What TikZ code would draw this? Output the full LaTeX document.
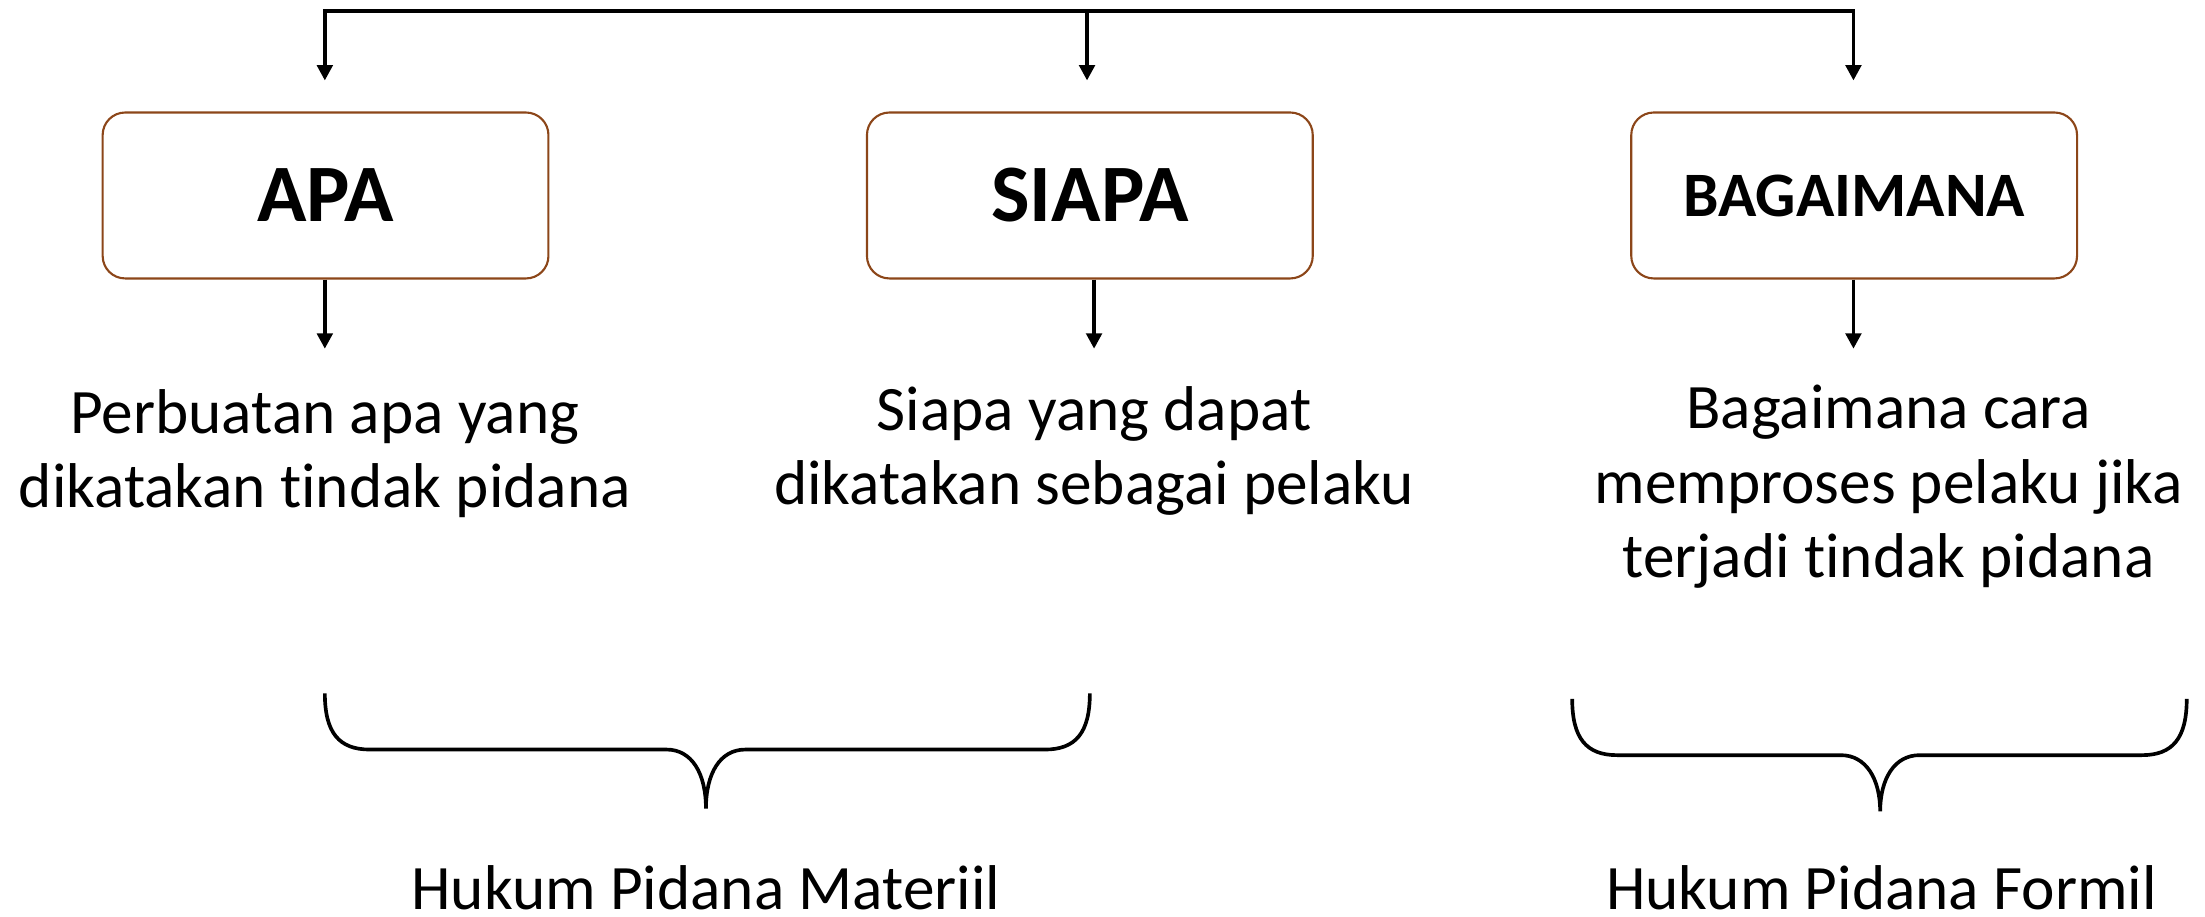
\documentclass[tikz,border=0pt]{standalone}
\usepackage{fontspec}
\setmainfont[Ligatures=NoCommon]{Carlito}
\usetikzlibrary{arrows.meta}
\definecolor{boxbrown}{RGB}{140,70,25}
\begin{document}
\begin{tikzpicture}[x=1pt,y=-1pt,
  conn/.style={line width=2.7pt,black},
  arr/.style={conn,-{Triangle[length=11pt,width=11pt]}},
  qbox/.style={draw=boxbrown,line width=1.5pt,rounded corners=16pt,minimum width=317pt,minimum height=118pt,inner sep=0pt,font=\fontsize{58}{60}\selectfont\bfseries},
  desc/.style={align=center,inner sep=0pt,font=\fontsize{45}{53}\selectfont},
  brace/.style={line width=2.6pt,black}]
\useasboundingbox (0,0) rectangle (1568,651.4);

\node[qbox] (apa) at (231.5,139) {APA};
\node[qbox] (siapa) at (775,139) {SIAPA};
\node[qbox,font=\fontsize{45}{50}\selectfont\bfseries] (bag) at (1318.5,139) {BAGAIMANA};

\coordinate (t1) at (231,8);
\coordinate (t2) at (773,8);
\coordinate (t3) at (1318,8);
\draw[conn] ([xshift=-1.35pt]t1) -- ([xshift=1.35pt]t3);
\draw[arr,shorten >=22pt] (t1) -- (t1 |- apa.north);
\draw[arr,shorten >=22pt] (t2) -- (t2 |- siapa.north);
\draw[arr,shorten >=22pt] (t3) -- (t3 |- bag.north);

\coordinate (e1) at (231,248);
\coordinate (e2) at (778,248);
\coordinate (e3) at (1318,248);
\draw[arr] (apa.south -| e1) -- (e1);
\draw[arr] (siapa.south -| e2) -- (e2);
\draw[arr] (bag.south -| e3) -- (e3);

\node[desc,anchor=base] (d1) at (231,361) {Perbuatan apa yang\\dikatakan tindak pidana};
\node[desc,anchor=base] (d2) at (778,359) {Siapa yang dapat\\dikatakan sebagai pelaku};
\node[desc,anchor=base] (d3) at (1343,411) {Bagaimana cara\\memproses pelaku jika\\terjadi tindak pidana};

\draw[brace] (231,493) .. controls (231,521) and (241,533) .. (263,533) -- (474,533)
  .. controls (492,533) and (502,550) .. (502,575)
  .. controls (502,550) and (512,533) .. (530,533) -- (743,533)
  .. controls (765,533) and (775,521) .. (775,493);
\draw[brace] (1118,497) .. controls (1118,525) and (1128,537) .. (1150,537) -- (1309,537)
  .. controls (1327,537) and (1337,554) .. (1337,577)
  .. controls (1337,554) and (1347,537) .. (1365,537) -- (1523,537)
  .. controls (1545,537) and (1555,525) .. (1555,497);

\node[desc,anchor=base,text depth=0pt] (hm) at (502,647) {Hukum Pidana Materiil};
\node[desc,anchor=base,text depth=0pt] (hf) at (1338,647) {Hukum Pidana Formil};
\end{tikzpicture}
\end{document}
